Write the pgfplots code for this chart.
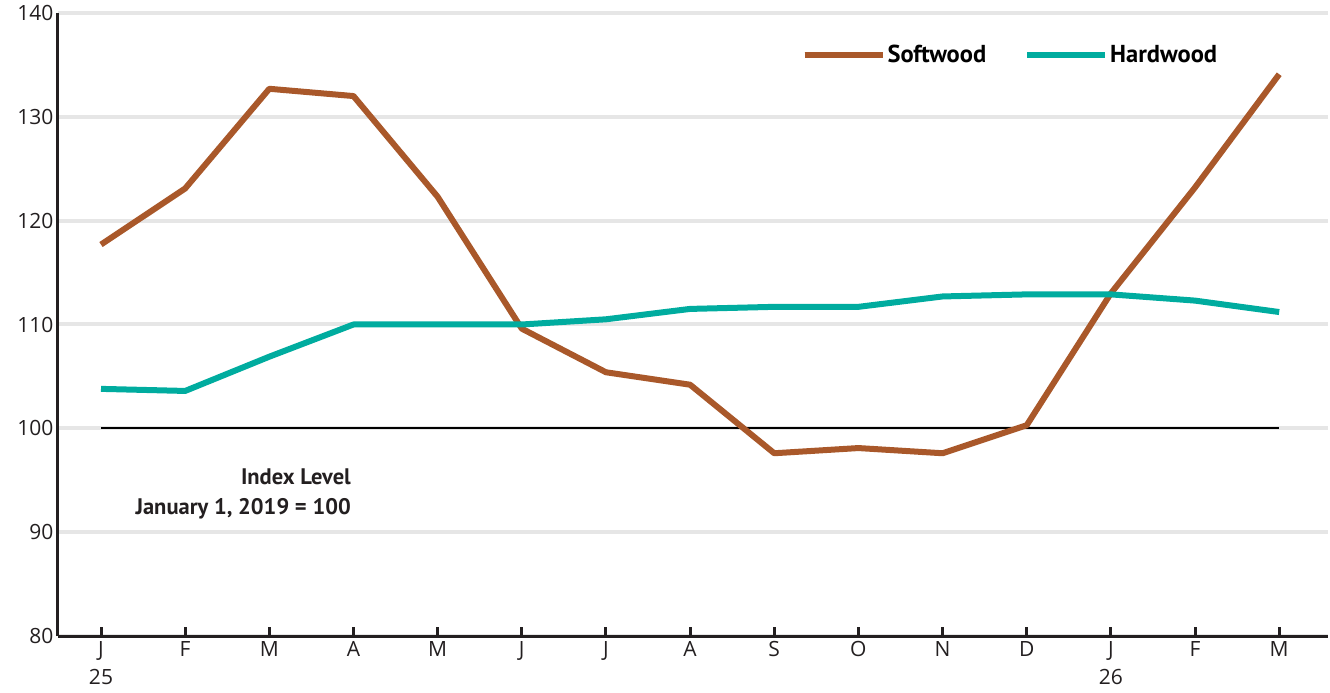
\documentclass[border=0pt]{standalone}
\usepackage{pgfplots}
\pgfplotsset{compat=1.18}
\usepackage{fontspec}
\setmainfont{Open Sans}
\newfontfamily\boldcond{PT Sans}
\definecolor{soft}{HTML}{A9582A}
\definecolor{hard}{HTML}{00AC9F}
\definecolor{axisc}{HTML}{231F20}
\definecolor{gridc}{HTML}{E6E6E6}
\begin{document}
\begin{tikzpicture}
\begin{axis}[
 scale only axis, width=1270pt, height=623pt,
 xmin=-0.511, xmax=14.58, ymin=80, ymax=140,
 axis x line=bottom, axis y line=left,
 axis line style={line width=3pt, color=axisc, -},
 /pgf/number format/assume math mode=true,
 xtick={0,...,14},
 xticklabels={{J\\25},F,M,A,M,J,J,A,S,O,N,D,{J\\26},F,M},
 xticklabel style={align=center, font=\fontsize{21}{28}\selectfont, text=axisc, anchor=north, yshift=-2pt},
 ytick={80,90,...,140},
 yticklabel style={font=\fontsize{21}{25}\selectfont, text=axisc, xshift=-1pt},
 tick align=inside, major tick length=9pt,
 xtick style={line width=3pt, color=axisc},
 ytick style={draw=none},
 ymajorgrids, grid style={line width=4pt, color=gridc},
 legend style={at={(rel axis cs:0.583,0.955)}, anchor=north west, draw=none, fill=none,
   font=\boldcond\bfseries\fontsize{24.5}{28}\selectfont, legend columns=2,
   /tikz/every even column/.append style={column sep=36pt}},
 legend cell align=left,
 legend image code/.code={\draw[#1] (0pt,0pt) -- (66pt,0pt); \path (0pt,0pt) -- (78pt,0pt);},
]
\coordinate (sw) at (rel axis cs:0,0);
\coordinate (ne) at (rel axis cs:1,1);
\addplot[black, line width=2pt, forget plot] coordinates {(0,100) (14,100)};
\addplot[soft, line width=6pt, line join=round] coordinates {
(0,117.7) (1,123.1) (2,132.7) (3,132.0) (4,122.3) (5,109.6) (6,105.4) (7,104.2)
(8,97.6) (9,98.1) (10,97.6) (11,100.3) (12,113.0) (13,123.2) (14,134.1)};
\addlegendentry{Softwood}
\addplot[hard, line width=6pt, line join=round] coordinates {
(0,103.8) (1,103.6) (2,106.9) (3,110.0) (4,110.0) (5,110.0) (6,110.5) (7,111.5)
(8,111.7) (9,111.7) (10,112.7) (11,112.9) (12,112.9) (13,112.3) (14,111.2)};
\addlegendentry{Hardwood}
\node[anchor=east, align=right, font=\boldcond\bfseries\fontsize{22.5}{30}\selectfont, text=axisc]
  at (axis cs:3.01,93.7) {Index Level\\January 1, 2019 = 100};
\end{axis}
\pgfresetboundingbox
\path ([shift={(-58pt,-56pt)}]sw) rectangle ([shift={(2pt,13pt)}]ne);
\end{tikzpicture}
\end{document}
